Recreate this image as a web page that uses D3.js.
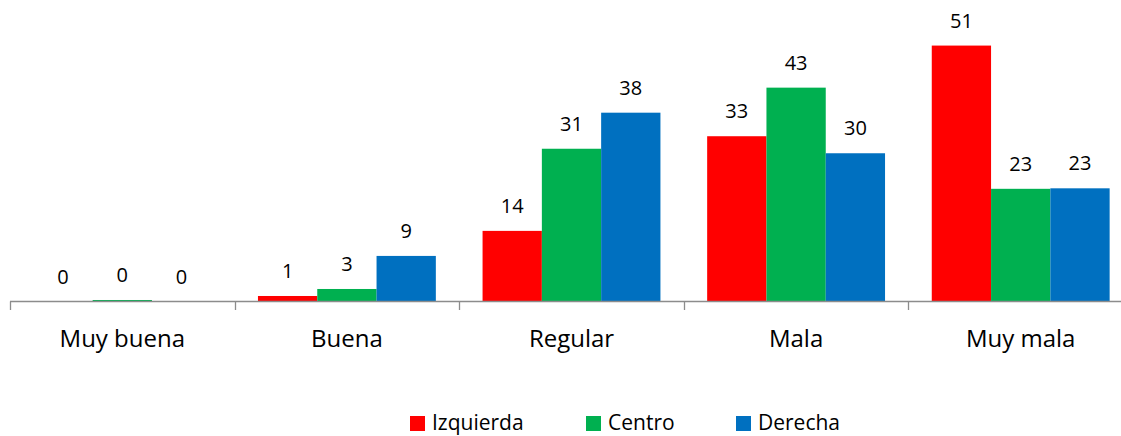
<!DOCTYPE html>
<html>
<head>
<meta charset="utf-8">
<script src="https://cdn.jsdelivr.net/npm/d3@7"></script>
<style>
  body { margin: 0; background: #fff; }
  svg { display: block; font-family: "Open Sans", sans-serif; }
</style>
</head>
<body>
<div id="chart"></div>
<script>
const categories = ["Muy buena", "Buena", "Regular", "Mala", "Muy mala"]
const series = ["Izquierda", "Centro", "Derecha"]
const colors = ["#ff0000", "#00b050", "#0070c0"]

// percentages per series, in category order
const izquierda = [0, 1.1, 14.1, 33, 51.1]
const centro = [0.3, 2.5, 30.5, 42.7, 22.5]
const derecha = [0, 9.1, 37.7, 29.6, 22.6]
const values = [izquierda, centro, derecha]

const width = 1121
const height = 436
const baseY = 301.5
const left = 10
const step = 224.6

const svg = d3.select("#chart")
  .append("svg")
  .attr("width", width)
  .attr("height", height)

let x0 = d3.scaleBand()
  .domain(categories)
  .range([left, left + step * categories.length])

let x1 = d3.scaleBand()
  .domain(series)
  .range([0, x0.bandwidth()])
  .paddingOuter(0.394)

let y = d3.scaleLinear()
  .domain([0, 60])
  .range([baseY, 1])

let rows = []
categories.forEach((c, i) => {
  series.forEach((s, j) => {
    rows.push({ cat: c, ser: s, val: values[j][i], color: colors[j] })
  })
})

svg.selectAll(".bar")
  .data(rows)
  .enter()
  .append("rect")
  .attr("class", "bar")
  .attr("x", d => x0(d.cat) + x1(d.ser))
  .attr("width", x1.bandwidth())
  .attr("y", d => y(d.val))
  .attr("height", d => baseY - y(d.val))
  .attr("fill", d => d.color)

svg.selectAll(".val")
  .data(rows)
  .enter()
  .append("text")
  .attr("class", "val")
  .attr("x", d => x0(d.cat) + x1(d.ser) + x1.bandwidth() / 2)
  .attr("y", d => y(d.val) - 18)
  .attr("text-anchor", "middle")
  .attr("font-size", 20)
  .attr("fill", "#000")
  .text(d => Math.round(d.val))

// category axis with ticks on the band edges
const axis = svg.append("g").attr("class", "x-axis")
axis.append("line")
  .attr("x1", left).attr("x2", width)
  .attr("y1", baseY).attr("y2", baseY)
  .attr("stroke", "#8c8c8c").attr("stroke-width", 1.3)

let edges = categories.map(c => x0(c)).concat([x0.range()[1]])
axis.selectAll(".tick")
  .data(edges)
  .enter()
  .append("line")
  .attr("class", "tick")
  .attr("x1", d => Math.round(d) + 0.5).attr("x2", d => Math.round(d) + 0.5)
  .attr("y1", baseY).attr("y2", baseY + 8.5)
  .attr("stroke", "#8c8c8c").attr("stroke-width", 1.3)

axis.selectAll(".lab")
  .data(categories)
  .enter()
  .append("text")
  .attr("class", "lab")
  .attr("x", d => x0(d) + x0.bandwidth() / 2)
  .attr("y", 347)
  .attr("text-anchor", "middle")
  .attr("font-size", 24)
  .attr("fill", "#000")
  .text(d => d)

// legend
const legendX = [410, 586, 736]
const legend = svg.append("g").attr("id", "legend")
let item = legend.selectAll(".item")
  .data(series)
  .enter()
  .append("g")
  .attr("class", "item")
  .attr("transform", (d, i) => "translate(" + legendX[i] + ",416)")

item.append("rect")
  .attr("width", 15).attr("height", 15)
  .attr("fill", (d, i) => colors[i])

item.append("text")
  .attr("x", 22)
  .attr("y", 14)
  .attr("font-size", 21)
  .attr("fill", "#000")
  .text(d => d)
</script>
</body>
</html>
